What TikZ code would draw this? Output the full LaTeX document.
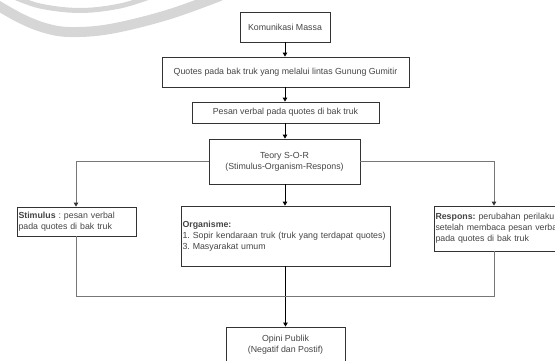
\documentclass[tikz,border=0pt]{standalone}
\usepackage{fontspec}
\setmainfont{Liberation Sans}
\usetikzlibrary{arrows.meta}
\definecolor{boxline}{HTML}{333333}
\definecolor{txt}{HTML}{444444}
\definecolor{conn}{HTML}{777777}
\definecolor{wm}{HTML}{D6D6D6}
\tikzset{
  box/.style={draw=boxline, line width=0.8pt, inner sep=0pt, align=center,
    font=\fontsize{8.8}{11}\selectfont, text=txt},
  lbox/.style={draw=boxline, line width=0.8pt, inner xsep=1.5pt, inner ysep=0pt, align=left,
    font=\fontsize{8.8}{11}\selectfont, text=txt},
  arr/.style={line width=0.8pt, -{Triangle[length=4pt,width=4.5pt]}},
  garr/.style={line width=0.9pt, draw=conn, -{Triangle[length=4pt,width=4.5pt,fill=black!80,color=black!80]}},
  gline/.style={line width=0.9pt, draw=conn},
}
\begin{document}
\frenchspacing
\begin{tikzpicture}[x=1pt,y=-1pt]
\useasboundingbox (0,0) rectangle (555,360);
\clip (0,0) rectangle (555,360);
% watermark swooshes
\draw[wm, line width=10pt, line cap=round] plot[smooth, tension=0.6] coordinates {(-8,2) (20,18) (45,28) (70,32) (110,29) (167,15) (220,-4)};
\draw[wm, line width=5pt] plot[smooth, tension=0.6] coordinates {(12,-4) (40,6) (80,10.5) (120,6) (152,-4)};
% nodes
\node[box, minimum width=90pt, minimum height=30pt] (kom) at (285,27) {Komunikasi Massa};
\node[box, minimum width=247pt, minimum height=30pt] (quo) at (285.5,72) {Quotes pada bak truk yang melalui lintas Gunung Gumitir};
\node[box, minimum width=187pt, minimum height=21pt] (pes) at (285.5,112.5) {Pesan verbal pada quotes di bak truk};
\node[box, minimum width=151pt, minimum height=45pt] (teo) at (284.5,161.5) {Teory S-O-R\\(Stimulus-Organism-Respons)};
\node[lbox, text width=116pt, minimum height=29pt] (sti) at (76.5,221.5) {\textbf{Stimulus} : pesan verbal\\pada quotes di bak truk};
\node[lbox, text width=206pt, minimum height=60pt] (org) at (285.5,236) {\textbf{Organisme:}\\\mbox{1. Sopir kendaraan truk (truk yang terdapat quotes)}\\3. Masyarakat umum};
\node[lbox, text width=137pt, minimum height=45pt] (res) at (504,228.5) {\textbf{Respons:} perubahan perilaku\\\mbox{setelah membaca pesan verbal}\\pada quotes di bak truk};
\node[box, minimum width=119pt, minimum height=36pt] (opi) at (285.5,345) {Opini Publik\\(Negatif dan Postif)};
\coordinate (stiBot) at (76,236);
\coordinate (resBot) at (494,251);
% connectors
\draw[arr] (kom.south) -- (kom.south |- quo.north);
\draw[arr] (quo.south -| kom.south) -- (kom.south |- pes.north);
\draw[arr] (pes.south -| kom.south) -- (kom.south |- teo.north);
\draw[garr] (teo.west) -| (stiBot |- sti.north);
\draw[garr] (teo.east) -| (resBot |- res.north);
\draw[arr] (teo.south -| kom.south) -- (kom.south |- org.north);
\draw[arr] (org.south -| opi.north) -- (opi.north);
\draw[gline] (stiBot) |- (494,296) -- (resBot);
\end{tikzpicture}
\end{document}
